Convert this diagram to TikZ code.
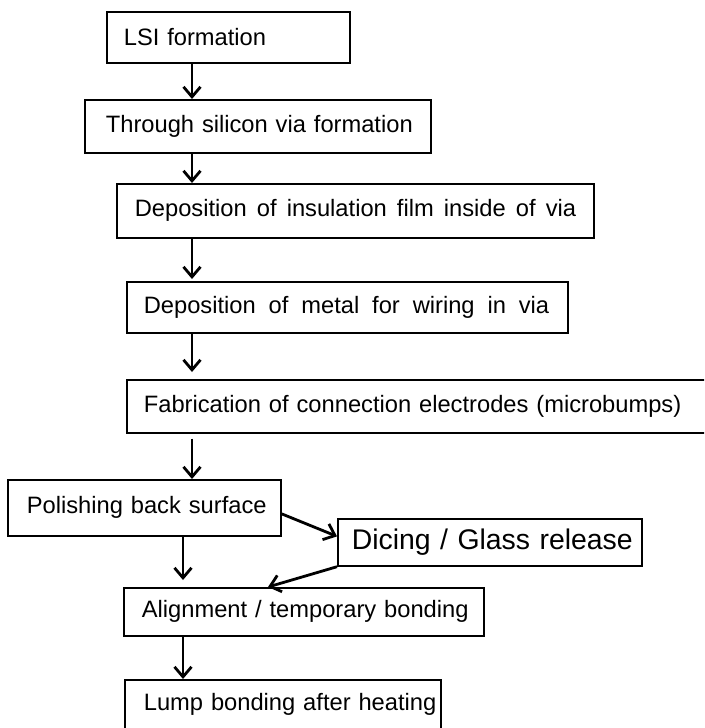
\documentclass[tikz,border=0pt]{standalone}
\usepackage{fontspec}
\setmainfont{Liberation Sans}
\usetikzlibrary{arrows.meta}
\begin{document}
\begin{tikzpicture}[x=1pt,y=-1pt,
  box/.style={draw, line width=1.7pt, rectangle, inner xsep=0pt, inner ysep=0pt,
    align=left, anchor=north west, font=\fontsize{23.7}{28}\selectfont},
  arr/.style={line width=2.8pt, -{Straight Barb[length=10pt,width=17pt]}}]
\useasboundingbox (0,0) rectangle (704,728);
\fill[white] (0,0) rectangle (704,728);
\clip (0,0) rectangle (704,728);

\node[box, text width=243pt, minimum height=51pt] (lsi) at (106,11) {\hspace*{17pt}LSI formation};
\node[box, text width=346pt, minimum height=53pt] (tsv) at (84,99) {\hspace*{21pt}Through silicon via formation};
\node[box, text width=477pt, minimum height=54pt] (ins) at (116,183) {\spaceskip=10.1pt\hspace*{18pt}Deposition of insulation film inside of via};
\node[box, text width=441pt, minimum height=51pt] (met) at (126,281) {\spaceskip=12.9pt\hspace*{17pt}Deposition of metal for wiring in via};
\node[box, text width=590pt, minimum height=53pt] (fab) at (126,379) {\hspace*{17pt}Fabrication of connection electrodes (microbumps)};
\node[box, text width=273pt, minimum height=56pt] (pol) at (7,479) {\hspace*{19pt}Polishing back surface};
\node[box, text width=304pt, minimum height=47pt, font=\fontsize{28.4}{32}\selectfont] (dic) at (337,518) {\hspace*{14pt}Dicing / Glass release};
\node[box, text width=360pt, minimum height=48pt] (ali) at (123,587) {\hspace*{18pt}Alignment / temporary bonding};
\node[box, text width=316pt, minimum height=50pt] (lum) at (124,679) {\hspace*{19pt}Lump bonding after heating};

\coordinate (c1) at (192,0);
\coordinate (c2) at (183,0);

\draw[arr] (lsi.south -| c1) -- (tsv.north -| c1);
\draw[arr] (tsv.south -| c1) -- (ins.north -| c1);
\draw[arr, shorten >=2pt] (ins.south -| c1) -- (met.north -| c1);
\draw[arr, shorten >=7pt] (met.south -| c1) -- (fab.north -| c1);
\draw[arr, shorten <=5pt] (fab.south -| c1) -- (pol.north -| c1);
\draw[arr, shorten >=7pt] (pol.south -| c2) -- (ali.north -| c2);
\draw[arr] (ali.south -| c2) -- (lum.north -| c2);
\draw[arr] ([yshift=-6pt]pol.east) -- ([yshift=6pt]dic.west);
\draw[arr] (dic.south west) -- ([xshift=145pt]ali.north west);
\end{tikzpicture}
\end{document}
